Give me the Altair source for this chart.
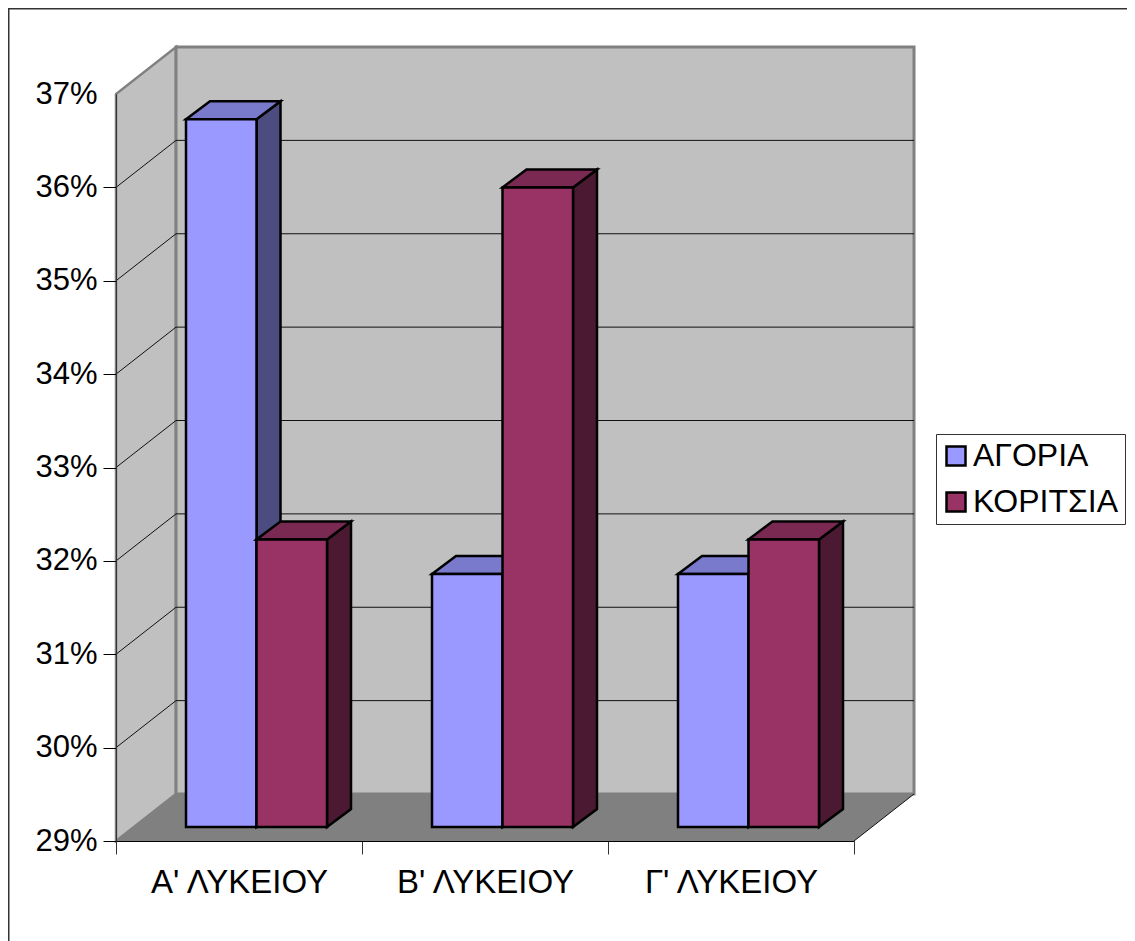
import json
import altair as alt
import pandas as pd

categories = ["Α' ΛΥΚΕΙΟΥ", "Β' ΛΥΚΕΙΟΥ", "Γ' ΛΥΚΕΙΟΥ"]
series = ["ΑΓΟΡΙΑ", "ΚΟΡΙΤΣΙΑ"]
boys = [36.58, 31.71, 31.71]
girls = [32.08, 35.85, 32.08]
tick_values = [29, 30, 31, 32, 33, 34, 35, 36, 37]

FRONT = ["#9999FF", "#993366"]
SIDE = ["#4C4C80", "#4C1933"]
TOP = ["#7A7ACC", "#7A2952"]
FONT = "Liberation Sans"

W, H = 738, 747
PX = 3 / W * 1.0           # category units per pixel
PY = 8 / H                 # percent units per pixel
x_scale = alt.Scale(domain=[0, 3], nice=False, zero=False)
y_scale = alt.Scale(domain=[29, 37], nice=False, zero=False)
X = lambda f="x": alt.X(f"{f}:Q", scale=x_scale, title=None)
Y = lambda f="y": alt.Y(f"{f}:Q", scale=y_scale, title=None)

WALL_DX, WALL_DY = 60 * PX, 47 * PY
BAR_W = 70.5 * PX
BAR_LEFT = 70 * PX
BAR_LIFT = 14 * PY
BAR_DX, BAR_DY = 24 * PX, 18 * PY
base = 29

# ---- box ----
side_wall = pd.DataFrame({"x": [0, WALL_DX], "y": [base, base + WALL_DY], "y2": [37, 37 + WALL_DY]})
back_wall = pd.DataFrame({"x": [WALL_DX], "x2": [3 + WALL_DX], "y": [base + WALL_DY], "y2": [37 + WALL_DY]})
floor = pd.DataFrame({"y": [base, base + WALL_DY], "x": [0, WALL_DX], "x2": [3, 3 + WALL_DX]})
grid_vals = tick_values[1:-1]
back_grid = pd.DataFrame({"y": [v + WALL_DY for v in grid_vals], "x": WALL_DX, "x2": 3 + WALL_DX})
side_grid = pd.DataFrame({"x": 0.0, "x2": WALL_DX, "y": grid_vals, "y2": [v + WALL_DY for v in grid_vals]})
floor_edge = pd.DataFrame({"x": [3], "x2": [3 + WALL_DX], "y": [base], "y2": [base + WALL_DY]})

# ---- bars ----
front_rows, side_rows, top_rows = [], [], []
for s, vals in enumerate([boys, girls]):
    for c, v in enumerate(vals):
        key = f"{s}-{c}"
        x0 = c + BAR_LEFT + s * BAR_W
        x1 = x0 + BAR_W
        y0 = base + BAR_LIFT
        y1 = v + BAR_LIFT
        front_rows.append(dict(series=series[s], s=s, x=x0, x2=x1, y=y0, y2=y1))
        side_rows += [dict(key=key, s=s, x=x1, y=y0, y2=y1),
                      dict(key=key, s=s, x=x1 + BAR_DX, y=y0 + BAR_DY, y2=y1 + BAR_DY)]
        top_rows += [dict(key=key, s=s, y=y1, x=x0, x2=x1),
                     dict(key=key, s=s, y=y1 + BAR_DY, x=x0 + BAR_DX, x2=x1 + BAR_DX)]
front_df, side_df, top_df = map(pd.DataFrame, (front_rows, side_rows, top_rows))

layers = []
layers.append(alt.Chart(side_wall).mark_area(color="#C0C0C0", stroke="#808080", strokeWidth=2.5)
              .encode(x=X(), y=Y(), y2="y2:Q"))
layers.append(alt.Chart(back_wall).mark_rect(color="#C0C0C0", stroke="#808080", strokeWidth=3)
              .encode(x=X(), x2="x2:Q", y=Y(), y2="y2:Q"))
layers.append(alt.Chart(back_grid).mark_rule(color="#111111", strokeWidth=1)
              .encode(x=X(), x2="x2:Q", y=Y()))
layers.append(alt.Chart(side_grid).mark_rule(color="#111111", strokeWidth=1)
              .encode(x=X(), x2="x2:Q", y=Y(), y2="y2:Q"))
layers.append(alt.Chart(floor).mark_area(orient="horizontal", color="#808080")
              .encode(y=Y(), x=X(), x2="x2:Q"))
layers.append(alt.Chart(floor_edge).mark_rule(color="#111111", strokeWidth=1)
              .encode(x=X(), x2="x2:Q", y=Y(), y2="y2:Q"))

color = alt.Color("series:N", scale=alt.Scale(domain=series, range=FRONT),
                  legend=alt.Legend(title=None, orient="none", legendX=820, legendY=340,
                                    symbolType="square", symbolSize=361, symbolStrokeWidth=2.5,
                                    symbolStrokeColor="black", symbolOffset=-2,
                                    labelFont=FONT, labelFontSize=32,
                                    labelColor="black", fillColor="white", strokeColor="#333333",
                                    padding=6, rowPadding=14, labelOffset=1, labelLimit=300))
for s in range(2):
    layers.append(alt.Chart(side_df[side_df.s == s]).mark_area(
        color=SIDE[s], stroke="black", strokeWidth=2.5, strokeJoin="miter")
        .encode(x=X(), y=Y(), y2="y2:Q", detail="key:N"))
    layers.append(alt.Chart(top_df[top_df.s == s]).mark_area(
        orient="horizontal", color=TOP[s], stroke="black", strokeWidth=2.5, strokeJoin="miter")
        .encode(y=Y(), x=X(), x2="x2:Q", detail="key:N"))
    layers.append(alt.Chart(front_df[front_df.s == s]).mark_rect(
        stroke="black", strokeWidth=2.5, strokeJoin="miter")
        .encode(x=X(), x2="x2:Q", y=Y(), y2="y2:Q", color=color))

# axes
axis_layer = alt.Chart(pd.DataFrame({"x": [0.0], "y": [29.0]})).mark_point(opacity=0).encode(
    x=alt.X("x:Q", scale=x_scale, title=None,
            axis=alt.Axis(values=[0, 1, 2, 3], grid=False, zindex=1, domainColor="black", domainWidth=1,
                          tickColor="#333333", tickSize=13, tickWidth=1,
                          labelExpr=f"{json.dumps(categories, ensure_ascii=False)}[datum.value] || ''",
                          labelOffset=123, labelFont=FONT, labelFontSize=33, labelColor="black",
                          labelPadding=12, labelBound=False, labelFlush=False, labelOverlap=False)),
    y=alt.Y("y:Q", scale=y_scale, title=None,
            axis=alt.Axis(values=tick_values, grid=False, zindex=1, domainColor="#333333", domainWidth=1,
                          tickColor={"condition": {"test": "datum.value == 37", "value": "transparent"},
                                     "value": "black"},
                          tickSize=13, tickWidth=1, labelExpr="datum.value + '%'",
                          labelFont=FONT, labelFontSize=31, labelColor="black", labelPadding=6,
                          labelOverlap=False, labelBound=False)),
)
layers.append(axis_layer)

# chart frame
frame_h = alt.Chart(pd.DataFrame({"a": [0]})).mark_rule(color="#333333", strokeWidth=3).encode(
    x=alt.value(-108), x2=alt.value(1011), y=alt.value(-86))
frame_v = alt.Chart(pd.DataFrame({"a": [0]})).mark_rule(color="#333333", strokeWidth=3).encode(
    x=alt.value(-108), y=alt.value(-86), y2=alt.value(847))
layers += [frame_h, frame_v]

chart = alt.layer(*layers).properties(
    width=W, height=H, autosize="none",
    padding={"left": 108, "top": 86, "right": 273, "bottom": 100},
    background="white",
).configure_view(stroke=None)

chart.save("out.html", embed_options={"renderer": "svg", "actions": False})
